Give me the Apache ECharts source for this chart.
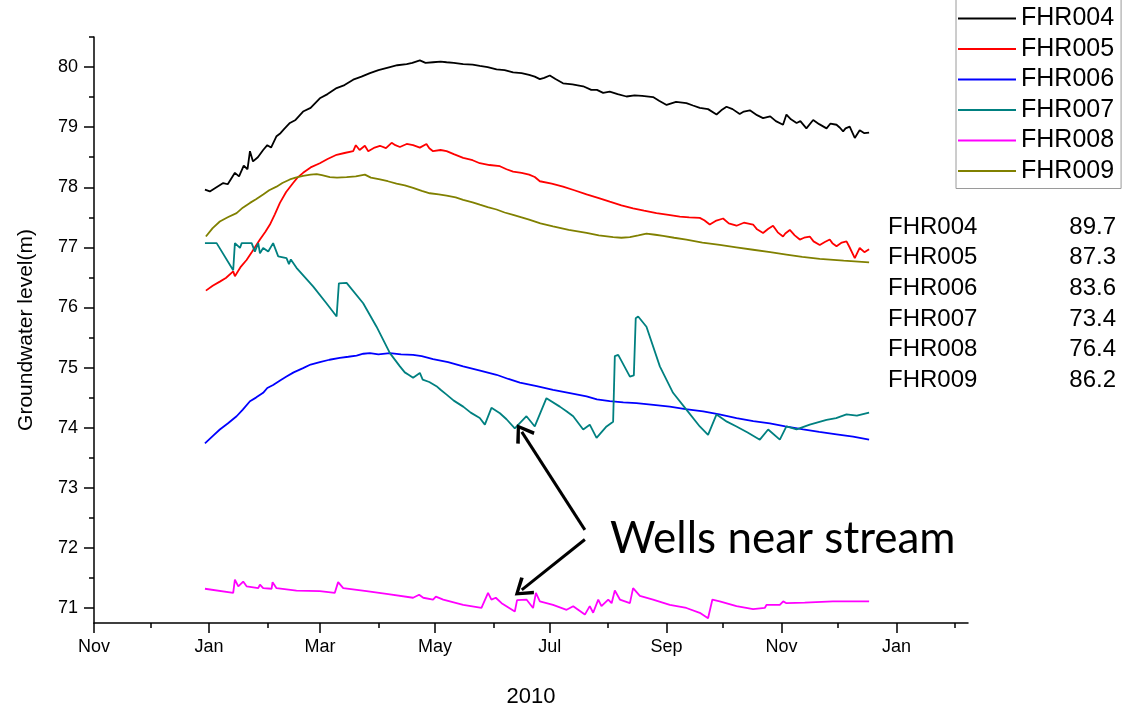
<!DOCTYPE html>
<html><head><meta charset="utf-8">
<script src="https://cdn.jsdelivr.net/npm/echarts@6/dist/echarts.min.js"></script>
<style>html,body{margin:0;padding:0;background:#fff}#c{width:1130px;height:713px}</style>
</head><body><div id="c"></div>
<script>
// x values are days counted from 1 Jan 2010 (negative = late 2009)
const monthTickDays = [-61, 0, 59, 120, 181, 243, 304, 365];
const monthTickLabels = ['Nov', 'Jan', 'Mar', 'May', 'Jul', 'Sep', 'Nov', 'Jan'];
const minorTickDays = [-31, 31, 90, 151, 212, 273, 334, 396];
const yTickValues = [71, 72, 73, 74, 75, 76, 77, 78, 79, 80];
const yMinorTickValues = [71.5, 72.5, 73.5, 74.5, 75.5, 76.5, 77.5, 78.5, 79.5, 80.5];

const wellNames = ['FHR004', 'FHR005', 'FHR006', 'FHR007', 'FHR008', 'FHR009'];
const wellElevations = ['89.7', '87.3', '83.6', '73.4', '76.4', '86.2'];

const days004 = [-2.1,0.5,3,7.6,10,13.8,16,18.5,20.5,21.8,23.4,26,28.8,31,33,35.9,38,40,43,46,50,54,58.9,63,67.8,72,76.6,81,85.5,90,96.1,100,105,108,112,115,119,123,126.2,130,135,140,143.8,148,152.7,157,161.5,166,170,173,175.7,178,181,184,188,193,198.7,203,206,209.3,212.8,217,221.7,226,230,235.8,239,243,248,253.5,257,260.6,265,269.5,272,274.8,278,281.8,284,287.2,291,294.2,298,301,304.8,306.6,309,312,314,317.2,320.8,324,327.9,330,333.2,335,336.7,338,340.2,342.9,345.5,348,350.5];
const fhr004 = [77.96,77.93,77.98,78.07,78.05,78.24,78.18,78.36,78.30,78.60,78.43,78.50,78.62,78.70,78.66,78.85,78.90,78.97,79.07,79.12,79.26,79.32,79.48,79.55,79.65,79.70,79.79,79.84,79.90,79.95,80.00,80.03,80.05,80.07,80.11,80.07,80.08,80.09,80.08,80.07,80.05,80.04,80.02,80.00,79.96,79.95,79.91,79.90,79.87,79.84,79.80,79.82,79.86,79.80,79.73,79.71,79.68,79.62,79.62,79.57,79.59,79.55,79.51,79.53,79.52,79.50,79.44,79.37,79.42,79.40,79.36,79.32,79.30,79.21,79.28,79.34,79.30,79.22,79.26,79.28,79.20,79.15,79.18,79.10,79.04,79.21,79.13,79.07,79.10,78.98,79.12,79.05,78.98,79.06,79.04,78.99,78.93,78.98,79.01,78.82,78.95,78.90,78.91];

const days005 = [-1.6,2,5.8,9,12.9,13.8,17,20,23,27.1,30,32.4,35,37.7,41,44.7,47,50,54,58.9,63,67.8,72,76.6,78,80,82.8,84.6,88,90.8,94,97,99,101.4,105,108.4,112,115.5,117,119,123,126.2,130,135,140,143.8,149,154.5,158,161.5,166,170,173,175.7,182,188,194,200.5,207,212.8,219,225.2,231,237.6,244,250,255,260.6,263,265.9,269,273,276,280.1,284,288.9,291,294.2,297,299.5,302,304.8,306,308.4,311,313.7,316,319,321,324.3,327,329.6,331,333.2,336,338.5,340,342.9,345.5,348,350.5];
const fhr005 = [76.28,76.36,76.43,76.49,76.60,76.52,76.68,76.79,76.93,77.13,77.26,77.38,77.55,77.74,77.92,78.07,78.16,78.24,78.33,78.40,78.47,78.54,78.57,78.60,78.70,78.62,78.69,78.60,78.66,78.69,78.65,78.74,78.70,78.67,78.72,78.70,78.66,78.72,78.65,78.60,78.62,78.60,78.55,78.49,78.45,78.40,78.37,78.35,78.30,78.26,78.24,78.21,78.17,78.10,78.06,78.01,77.95,77.88,77.82,77.76,77.70,77.65,77.61,77.57,77.54,77.51,77.50,77.49,77.45,77.38,77.44,77.48,77.40,77.36,77.41,77.38,77.30,77.24,77.31,77.36,77.25,77.18,77.23,77.29,77.20,77.13,77.16,77.18,77.10,77.04,77.09,77.13,77.07,77.02,77.08,77.10,77.01,76.82,76.99,76.92,76.97];

const days006 = [-2.1,2,5.8,10,14.7,18,21.8,25,28.8,31,34.1,38,41.2,45,50,54,58.9,64,69.5,74,78.4,82,85.5,90,96.1,102,108.4,113,119,127,135,144,152.7,159,165.1,174,182.7,191,200.5,206,212.8,220,227,236,244.7,253,262.4,271,280.1,289,297.8,306,315.5,324,333.2,342,350.5];
const fhr006 = [73.74,73.86,73.97,74.07,74.19,74.30,74.44,74.50,74.58,74.66,74.71,74.79,74.85,74.92,74.99,75.05,75.09,75.13,75.16,75.18,75.20,75.23,75.24,75.22,75.24,75.22,75.21,75.19,75.14,75.09,75.02,74.95,74.88,74.81,74.75,74.69,74.63,74.58,74.52,74.47,74.44,74.42,74.41,74.38,74.35,74.31,74.27,74.22,74.16,74.11,74.07,74.02,73.97,73.93,73.89,73.85,73.80];

const days007 = [-2.1,4.1,12.9,13.8,16.5,17.4,22.7,24.4,26.2,27.1,28.8,31.5,34.1,36.8,41.2,42.5,43.5,46.5,55.3,62.4,67.8,69,69.5,73.1,81.9,89,96.1,101.4,104,106,108.4,112,113.5,117,120.8,123,126.2,130,135,139,143.8,146.5,150,154.5,158,162.4,168.6,173,179.2,186.3,190,193.4,198.7,202.2,205.8,211.1,214.6,215.5,217.3,223.5,225.6,226.6,227.9,232.3,239.4,246.4,253.5,260.6,265,269.5,275,280.1,286,292.5,296.9,303.1,306.6,312,319,327.9,333,338.5,344,350.5];
const fhr007 = [77.07,77.07,76.62,77.07,76.99,77.07,77.07,76.93,77.07,76.90,76.99,76.93,77.07,76.85,76.82,76.72,76.80,76.66,76.35,76.07,75.85,76.40,76.43,76.41,76.07,75.68,75.24,75.02,74.92,74.88,74.83,74.91,74.80,74.76,74.69,74.63,74.55,74.45,74.35,74.25,74.16,74.05,74.33,74.24,74.14,73.99,74.19,74.02,74.49,74.35,74.27,74.19,73.97,74.05,73.83,74.02,74.10,75.19,75.21,74.85,74.87,75.82,75.85,75.68,75.02,74.58,74.30,74.02,73.88,74.22,74.10,74.02,73.92,73.80,73.97,73.80,74.02,73.97,74.05,74.13,74.16,74.22,74.20,74.25];

const days008 = [-2.1,12.9,13.8,15.6,18.2,20,26.2,27.1,28.8,33.3,33.8,35.9,46.5,58.9,66.8,68.6,71.3,83.7,95.2,108.4,111.6,113.8,119,120.5,124.4,135,144.7,148.2,150,152.3,155.4,162.4,163.6,168.6,172.1,173.6,175.7,182.7,189.9,193.4,199.6,202.2,204,206.7,208.4,212,213.8,215.5,218.2,223.5,225.2,228.8,235.8,244.7,253.5,260.6,265,267.3,271.2,280.1,288.9,295.1,296,303.1,304.9,306.6,316.3,331.3,350.5];
const fhr008 = [71.32,71.25,71.47,71.36,71.44,71.36,71.33,71.39,71.33,71.32,71.43,71.33,71.29,71.28,71.25,71.43,71.33,71.28,71.23,71.17,71.22,71.17,71.14,71.19,71.14,71.05,71.00,71.25,71.14,71.17,71.08,70.94,71.13,71.14,71.00,71.25,71.11,71.05,70.97,71.03,70.89,71.03,70.92,71.14,71.03,71.14,71.08,71.29,71.14,71.08,71.33,71.20,71.14,71.05,71.00,70.92,70.83,71.14,71.11,71.03,70.98,71.00,71.05,71.05,71.11,71.08,71.09,71.11,71.11];

const days009 = [-1.6,2,5.8,10,14.7,18,21.8,25,28.8,32,35.9,39,43,46,50,54,57.2,60,64.2,68,73.1,78,82.8,86,90.8,95,99.6,104,108.4,113,117.3,122,126.2,131,135,140,143.8,148,152.7,157,161.5,166,170,176,182.7,191,200.5,207,214.6,219,223.5,228,232.3,237,241.1,247,253.5,262,271.2,280,288.9,298,306.6,315,324.3,337,350.5];
const fhr009 = [77.18,77.32,77.43,77.50,77.57,77.66,77.74,77.80,77.88,77.95,78.01,78.07,78.13,78.16,78.19,78.21,78.22,78.20,78.17,78.16,78.17,78.18,78.21,78.16,78.13,78.10,78.06,78.03,77.99,77.94,77.90,77.88,77.86,77.83,77.79,77.75,77.71,77.67,77.63,77.58,77.54,77.50,77.46,77.40,77.35,77.29,77.24,77.20,77.17,77.16,77.17,77.20,77.23,77.21,77.19,77.16,77.13,77.08,77.04,77.00,76.96,76.92,76.88,76.84,76.81,76.78,76.75];

// annotation arrows: [day, level]
const arrowTail1 = [199.6, 72.30];
const arrowHead1 = [166.1, 73.93];
const arrowTail2 = [199.6, 72.14];
const arrowHead2 = [166.1, 71.30];
const annotationText = 'Wells near stream';

const seriesDays = [days004, days005, days006, days007, days008, days009];
const seriesValues = [fhr004, fhr005, fhr006, fhr007, fhr008, fhr009];
const seriesColors = ['#000000', '#FF0000', '#0000FF', '#008080', '#FF00FF', '#808000'];

const zip = (a, b) => a.map((d, i) => [d, b[i]]).filter(p => p[1] !== undefined);
const chevron = 'path://M0,0 L-10,14 L-7.4,16 L0,5 L7.4,16 L10,14 Z';
const legendLine = 'path://M0,0 L60,0 L60,2 L0,2 Z';

const series = wellNames.map((n, i) => ({
  name: n, type: 'line', data: zip(seriesDays[i], seriesValues[i]),
  showSymbol: false, symbol: 'none', lineStyle: { width: 1.8, color: seriesColors[i] },
  itemStyle: { color: seriesColors[i] }, animation: false, z: 3
}));
series.push({
  name: 'annotation', type: 'line', data: [], showSymbol: false, animation: false,
  markLine: {
    silent: true, animation: false,
    symbol: ['none', chevron], symbolSize: [22, 18],
    lineStyle: { color: '#000', width: 3, type: 'solid' },
    label: { show: false },
    data: [
      [{ coord: arrowTail1 }, { coord: arrowHead1 }],
      [{ coord: arrowTail2 }, { coord: arrowHead2 }]
    ]
  }
});

const font = '"Liberation Sans", Arial, sans-serif';
const graphics = [];
wellNames.forEach((n, i) => {
  const y = 227 + i * 30.7;
  graphics.push({ type: 'text', x: 888, y: y, style: { text: n, font: '24px ' + font, fill: '#000', textAlign: 'left', textVerticalAlign: 'middle', align: 'left', verticalAlign: 'middle' } });
  graphics.push({ type: 'text', x: 1116, y: y, style: { text: wellElevations[i], font: '24px ' + font, fill: '#000', textAlign: 'right', textVerticalAlign: 'middle', align: 'right', verticalAlign: 'middle' } });
});
graphics.push({ type: 'text', x: 610, y: 539, style: { text: annotationText, font: '44px Lato, sans-serif', fill: '#000', textAlign: 'left', textVerticalAlign: 'middle', align: 'left', verticalAlign: 'middle' } });

const axisLineStyle = { color: '#000', width: 1.5 };
const option = {
  backgroundColor: '#fff',
  animation: false,
  textStyle: { fontFamily: font },
  grid: { left: 94, right: 162, top: 37, bottom: 90, outerBoundsMode: 'none' },
  legend: {
    data: wellNames, orient: 'vertical', left: 956, top: -6,
    padding: [12, 7, 5, 2], itemWidth: 58, itemHeight: 2, itemGap: 5.5,
    icon: legendLine,
    borderColor: '#9a9a9a', borderWidth: 1, backgroundColor: '#fff',
    textStyle: { fontSize: 25, fontFamily: font, color: '#000', lineHeight: 22 },
    selectedMode: false
  },
  xAxis: [{
    type: 'value', min: -61, max: 403, position: 'bottom',
    axisLine: { show: true, onZero: false, lineStyle: axisLineStyle },
    axisTick: { show: true, customValues: monthTickDays, length: 10, lineStyle: axisLineStyle },
    axisLabel: { customValues: monthTickDays, margin: 15, fontSize: 18, color: '#000', fontFamily: font,
      formatter: v => monthTickLabels[monthTickDays.indexOf(Math.round(v))] || '' },
    splitLine: { show: false },
    name: '2010', nameLocation: 'middle', nameGap: 63,
    nameTextStyle: { fontSize: 22, color: '#000', fontFamily: font }
  }, {
    type: 'value', min: -61, max: 403, position: 'bottom',
    axisLine: { show: false, onZero: false },
    axisTick: { show: true, customValues: minorTickDays, length: 5, lineStyle: axisLineStyle },
    axisLabel: { show: false }, splitLine: { show: false }
  }],
  yAxis: [{
    type: 'value', min: 70.75, max: 80.5, position: 'left',
    axisLine: { show: true, onZero: false, lineStyle: axisLineStyle },
    axisTick: { show: true, customValues: yTickValues, length: 10, lineStyle: axisLineStyle },
    axisLabel: { customValues: yTickValues, margin: 16, fontSize: 18, color: '#000', fontFamily: font },
    splitLine: { show: false },
    name: 'Groundwater level(m)', nameLocation: 'middle', nameGap: 57,
    nameTextStyle: { fontSize: 21, color: '#000', fontFamily: font }
  }, {
    type: 'value', min: 70.75, max: 80.5, position: 'left',
    axisLine: { show: false, onZero: false },
    axisTick: { show: true, customValues: yMinorTickValues, length: 5, lineStyle: axisLineStyle },
    axisLabel: { show: false }, splitLine: { show: false }
  }],
  series: series,
  graphic: graphics
};
const chart = echarts.init(document.getElementById('c'), null, { renderer: 'canvas' });
chart.setOption(option);
</script></body></html>
